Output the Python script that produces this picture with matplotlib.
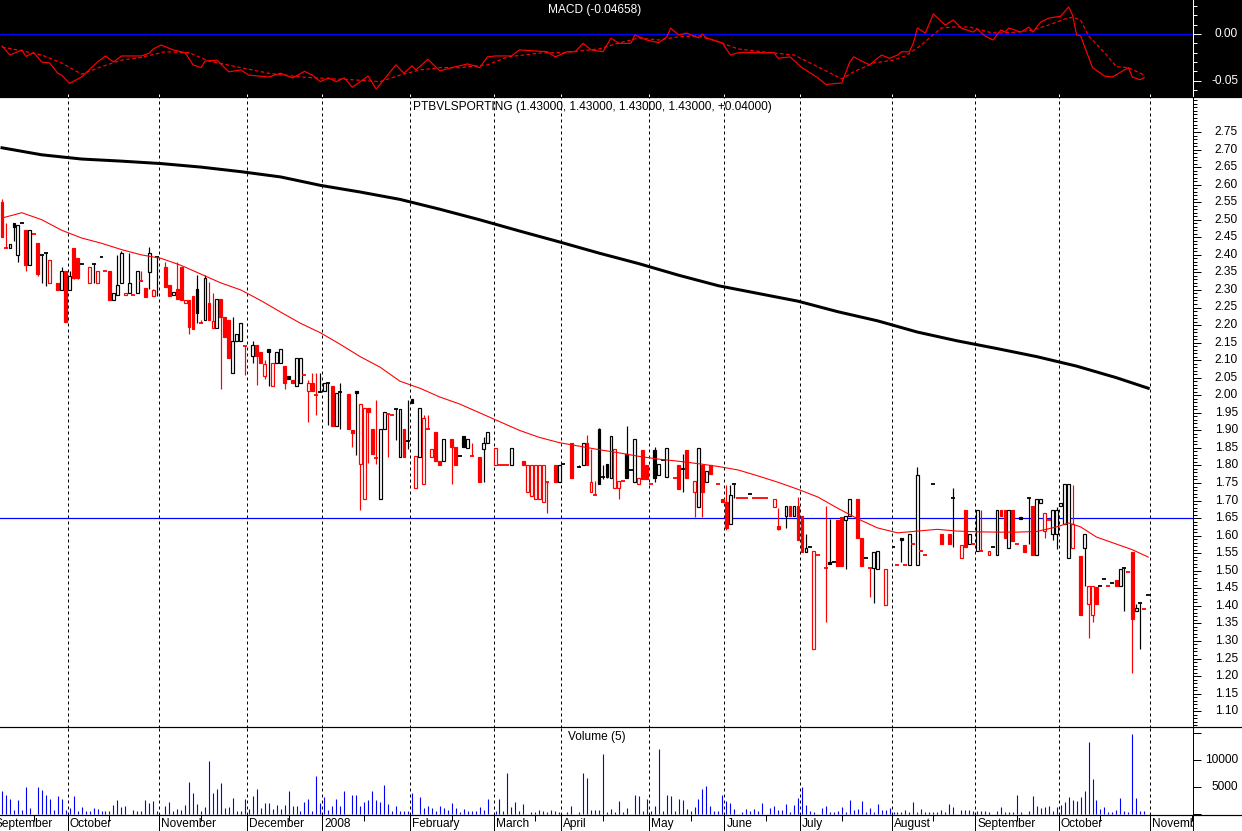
import numpy as np
import matplotlib
matplotlib.use("Agg")
import matplotlib.pyplot as plt
from matplotlib.patches import Rectangle
from matplotlib import transforms

plt.rcParams['font.family'] = ['Liberation Sans', 'DejaVu Sans']

# ---------------- data ----------------
month_names = ['September', 'October', 'November', 'December', '2008', 'February', 'March',
               'April', 'May', 'June', 'July', 'August', 'September', 'October', 'November']
month_first = [-2, 17, 40, 62, 81, 103, 124, 141, 163, 182, 201, 224, 245, 266, 289]

candle_day = [0, 1, 2, 3, 4, 5, 6, 7, 8, 9, 10, 11, 12, 14, 15, 16, 17, 18, 19, 20, 22, 23, 24, 25, 26, 27, 28, 29, 30,
              31, 32, 33, 34, 35, 36, 37, 38, 39,
              41, 42, 43, 44, 45, 46, 47, 48, 49, 50, 51, 52, 53, 54, 55, 56, 57, 58, 59, 60, 61,
              63, 64, 65, 66, 67, 68, 69, 70, 71, 72, 73, 74, 75, 76, 77, 78, 79,
              80, 81, 82, 83, 84, 85, 87, 88, 89, 90, 91, 92, 93, 94, 95, 96, 97, 98, 99, 100, 101, 102,
              103, 104, 105, 106, 107, 108, 109, 110, 111, 113, 114, 115, 116, 117, 118, 120, 121, 122,
              124, 125, 126, 127, 128, 131, 132, 133, 134, 135, 136, 137, 139, 140,
              141, 143, 145, 146, 147, 148, 149, 150, 151, 152, 153, 154, 155, 156, 157, 158, 159, 160, 161, 162,
              163, 164, 165, 166, 167, 169, 170, 171, 172, 174, 175, 176, 177, 178, 180, 181,
              182, 183, 184, 185, 186, 187, 188, 189, 190, 191, 192, 194, 195, 197, 198, 199, 200,
              201, 202, 203, 204, 205, 207, 208, 209, 210, 211, 212, 213, 215, 216, 217, 218, 219, 220, 222,
              224, 225, 226, 227, 228, 229, 230, 231, 232, 234, 236, 238, 239, 241, 242, 243, 244,
              245, 246, 248, 249, 250, 251, 252, 253, 254, 255, 256, 257, 258, 259, 260, 261, 262, 263, 264, 265,
              266, 267, 268, 269, 271, 272, 273, 274, 275, 276, 277, 278, 279, 280, 281, 282, 283, 284, 285, 286,
              287, 288]
candle_open = [2.55, 2.42, 2.42, 2.49, 2.40, 2.49, 2.47, 2.37, 2.46, 2.435, 2.40, 2.405, 2.32, 2.32, 2.30, 2.355, 2.30,
               2.42, 2.39, 2.375, 2.32, 2.375, 2.32, 2.395, 2.355, 2.355, 2.27, 2.285, 2.32,
               2.285, 2.29, 2.285, 2.29, 2.325, 2.305, 2.352, 2.283, 2.393,
               2.364, 2.314, 2.285, 2.303, 2.364, 2.262, 2.27, 2.283, 2.303, 2.205, 2.215, 2.262, 2.193, 2.193,
               2.273, 2.224, 2.213, 2.063, 2.154, 2.154, 2.14,
               2.113, 2.143, 2.124, 2.055, 2.133, 2.025, 2.093, 2.093, 2.083, 2.055, 2.043, 2.025, 2.034, 2.058,
               2.013, 2.034, 2.00,
               2.008, 2.013, 2.036, 2.025, 1.913, 2.01, 2.004, 1.901, 2.013, 1.803, 1.703, 1.963, 1.903, 1.82,
               1.703, 1.903, 1.946, 1.945, 1.96, 1.825, 1.903, 1.87,
               1.99, 1.735, 1.825, 1.746, 1.903, 1.825, 1.896, 1.814, 1.814, 1.874, 1.853, 1.827, 1.884, 1.851,
               1.827, 1.823, 1.846, 1.863,
               1.802, 1.80, 1.80, 1.80, 1.802, 1.813, 1.724, 1.714, 1.705, 1.705, 1.696, 1.754, 1.802, 1.754,
               1.803, 1.863, 1.80, 1.802, 1.863, 1.724, 1.715, 1.903, 1.766, 1.803, 1.763, 1.735, 1.735, 1.756,
               1.833, 1.787, 1.754, 1.746, 1.844, 1.801,
               1.746, 1.844, 1.772, 1.815, 1.768, 1.765, 1.801, 1.79, 1.844, 1.723, 1.683, 1.802, 1.754, 1.802,
               1.746, 1.704,
               1.697, 1.634, 1.747, 1.706, 1.706, 1.706, 1.722, 1.706, 1.706, 1.706, 1.706, 1.683, 1.627, 1.656,
               1.684, 1.656, 1.684,
               1.655, 1.554, 1.567, 1.276, 1.545, 1.508, 1.525, 1.524, 1.645, 1.654, 1.645, 1.655, 1.703, 1.593,
               1.535, 1.508, 1.507, 1.506, 1.403,
               1.567, 1.515, 1.593, 1.515, 1.515, 1.575, 1.515, 1.556, 1.545, 1.747, 1.604, 1.604, 1.706, 1.535,
               1.673, 1.575, 1.575,
               1.556, 1.556, 1.545, 1.567, 1.545, 1.673, 1.673, 1.564, 1.673, 1.575, 1.654, 1.572, 1.706, 1.684,
               1.545, 1.693, 1.614, 1.646, 1.604, 1.604,
               1.684, 1.633, 1.535, 1.564, 1.542, 1.564, 1.404, 1.375, 1.454, 1.457, 1.477, 1.457, 1.464, 1.474,
               1.457, 1.508, 1.496, 1.553, 1.385, 1.407,
               1.39, 1.43]
candle_high = [2.56, 2.49, 2.43, 2.49, 2.485, 2.49, 2.47, 2.47, 2.46, 2.435, 2.40, 2.405, 2.385, 2.32, 2.365, 2.355,
               2.355, 2.42, 2.39, 2.375, 2.366, 2.375, 2.355, 2.395, 2.355, 2.355, 2.29, 2.40, 2.41,
               2.29, 2.405, 2.285, 2.355, 2.355, 2.305, 2.423, 2.304, 2.393,
               2.381, 2.314, 2.293, 2.381, 2.364, 2.271, 2.27, 2.283, 2.343, 2.215, 2.343, 2.324, 2.29, 2.273,
               2.273, 2.224, 2.213, 2.224, 2.175, 2.205, 2.14,
               2.155, 2.143, 2.124, 2.10, 2.133, 2.093, 2.124, 2.133, 2.083, 2.055, 2.043, 2.105, 2.106, 2.058,
               2.043, 2.062, 2.062,
               2.062, 2.034, 2.036, 2.025, 2.006, 2.034, 2.004, 1.901, 2.013, 1.975, 1.963, 1.963, 1.903, 1.986,
               1.903, 1.951, 1.946, 1.945, 1.96, 1.962, 1.903, 1.986,
               1.99, 1.827, 1.963, 1.943, 1.944, 1.846, 1.896, 1.814, 1.874, 1.874, 1.853, 1.827, 1.884, 1.874,
               1.863, 1.823, 1.882, 1.894,
               1.851, 1.80, 1.80, 1.80, 1.851, 1.813, 1.80, 1.80, 1.80, 1.80, 1.80, 1.754, 1.802, 1.802,
               1.803, 1.863, 1.80, 1.863, 1.887, 1.846, 1.756, 1.908, 1.80, 1.803, 1.884, 1.846, 1.756, 1.756,
               1.912, 1.787, 1.874, 1.763, 1.844, 1.801,
               1.746, 1.853, 1.803, 1.815, 1.851, 1.765, 1.801, 1.834, 1.844, 1.756, 1.851, 1.802, 1.784, 1.802,
               1.746, 1.704,
               1.744, 1.744, 1.747, 1.706, 1.706, 1.706, 1.722, 1.706, 1.706, 1.706, 1.706, 1.704, 1.68, 1.684,
               1.684, 1.684, 1.71,
               1.655, 1.605, 1.567, 1.556, 1.545, 1.684, 1.648, 1.524, 1.645, 1.654, 1.655, 1.703, 1.703, 1.593,
               1.535, 1.508, 1.554, 1.555, 1.504,
               1.567, 1.515, 1.593, 1.515, 1.604, 1.575, 1.797, 1.556, 1.545, 1.747, 1.604, 1.604, 1.735, 1.572,
               1.673, 1.604, 1.575,
               1.673, 1.673, 1.556, 1.567, 1.673, 1.673, 1.673, 1.673, 1.673, 1.575, 1.654, 1.572, 1.706, 1.684,
               1.703, 1.705, 1.664, 1.646, 1.673, 1.683,
               1.694, 1.746, 1.747, 1.744, 1.542, 1.604, 1.457, 1.457, 1.454, 1.457, 1.477, 1.457, 1.464, 1.474,
               1.504, 1.508, 1.496, 1.553, 1.405, 1.407,
               1.39, 1.43]
candle_low = [2.45, 2.42, 2.42, 2.44, 2.38, 2.49, 2.355, 2.37, 2.46, 2.34, 2.32, 2.31, 2.32, 2.30, 2.30, 2.21, 2.30,
              2.33, 2.33, 2.375, 2.32, 2.32, 2.32, 2.395, 2.355, 2.27, 2.27, 2.285, 2.32,
              2.285, 2.29, 2.285, 2.29, 2.325, 2.28, 2.303, 2.283, 2.283,
              2.307, 2.283, 2.285, 2.273, 2.272, 2.262, 2.175, 2.19, 2.205, 2.205, 2.215, 2.215, 2.193, 2.193,
              2.017, 2.167, 2.105, 2.063, 2.154, 2.154, 2.058,
              2.093, 2.03, 2.093, 2.045, 2.025, 2.025, 2.093, 2.093, 2.017, 2.045, 2.034, 2.025, 2.034, 2.058,
              1.925, 2.013, 1.944,
              2.008, 2.013, 1.915, 1.913, 1.913, 1.905, 1.903, 1.853, 1.83, 1.673, 1.703, 1.806, 1.833, 1.803,
              1.703, 1.903, 1.825, 1.945, 1.872, 1.825, 1.825, 1.846,
              1.977, 1.735, 1.825, 1.746, 1.903, 1.825, 1.814, 1.802, 1.814, 1.746, 1.802, 1.827, 1.853, 1.851,
              1.827, 1.754, 1.754, 1.863,
              1.802, 1.80, 1.80, 1.80, 1.802, 1.802, 1.724, 1.714, 1.705, 1.705, 1.696, 1.664, 1.754, 1.754,
              1.803, 1.765, 1.796, 1.802, 1.802, 1.724, 1.715, 1.746, 1.76, 1.765, 1.763, 1.735, 1.705, 1.756,
              1.765, 1.787, 1.754, 1.746, 1.762, 1.762,
              1.746, 1.754, 1.772, 1.815, 1.768, 1.765, 1.733, 1.724, 1.765, 1.654, 1.683, 1.654, 1.754, 1.775,
              1.746, 1.697,
              1.616, 1.634, 1.706, 1.706, 1.706, 1.706, 1.718, 1.706, 1.706, 1.706, 1.706, 1.683, 1.617, 1.623,
              1.656, 1.656, 1.588,
              1.554, 1.554, 1.567, 1.276, 1.545, 1.355, 1.52, 1.524, 1.514, 1.514, 1.506, 1.655, 1.593, 1.514,
              1.535, 1.426, 1.407, 1.506, 1.403,
              1.567, 1.515, 1.525, 1.515, 1.515, 1.575, 1.515, 1.556, 1.545, 1.747, 1.575, 1.575, 1.567, 1.535,
              1.567, 1.575, 1.575,
              1.556, 1.556, 1.545, 1.567, 1.545, 1.655, 1.593, 1.564, 1.586, 1.575, 1.648, 1.554, 1.575, 1.545,
              1.545, 1.693, 1.594, 1.646, 1.587, 1.561,
              1.684, 1.633, 1.535, 1.564, 1.375, 1.457, 1.307, 1.355, 1.406, 1.457, 1.477, 1.457, 1.464, 1.457,
              1.457, 1.386, 1.496, 1.208, 1.385, 1.276,
              1.39, 1.43]
candle_close = [2.45, 2.42, 2.43, 2.48, 2.485, 2.49, 2.37, 2.47, 2.46, 2.345, 2.40, 2.405, 2.385, 2.30, 2.355, 2.21,
                2.34, 2.335, 2.335, 2.375, 2.365, 2.375, 2.355, 2.395, 2.355, 2.27, 2.29, 2.315, 2.405,
                2.29, 2.32, 2.285, 2.355, 2.325, 2.28, 2.404, 2.30, 2.393,
                2.307, 2.283, 2.293, 2.273, 2.272, 2.27, 2.195, 2.19, 2.235, 2.205, 2.333, 2.215, 2.212, 2.273,
                2.224, 2.167, 2.105, 2.154, 2.175, 2.205, 2.14,
                2.143, 2.113, 2.093, 2.09, 2.124, 2.093, 2.124, 2.133, 2.034, 2.045, 2.034, 2.105, 2.106, 2.058,
                2.034, 2.013, 2.00,
                2.008, 2.034, 2.036, 1.913, 2.006, 2.01, 1.903, 1.893, 2.006, 1.975, 1.963, 1.953, 1.833, 1.82,
                1.903, 1.951, 1.946, 1.945, 1.96, 1.962, 1.825, 1.87,
                1.977, 1.827, 1.963, 1.934, 1.903, 1.846, 1.814, 1.802, 1.874, 1.853, 1.802, 1.827, 1.853, 1.874,
                1.827, 1.754, 1.863, 1.894,
                1.851, 1.80, 1.80, 1.80, 1.851, 1.802, 1.80, 1.80, 1.80, 1.80, 1.80, 1.754, 1.754, 1.802,
                1.803, 1.765, 1.797, 1.863, 1.802, 1.754, 1.715, 1.746, 1.766, 1.767, 1.884, 1.846, 1.756, 1.756,
                1.765, 1.787, 1.874, 1.763, 1.762, 1.762,
                1.746, 1.765, 1.803, 1.815, 1.851, 1.765, 1.733, 1.79, 1.765, 1.756, 1.851, 1.724, 1.784, 1.775,
                1.746, 1.697,
                1.623, 1.716, 1.747, 1.706, 1.706, 1.706, 1.719, 1.706, 1.706, 1.706, 1.706, 1.704, 1.62, 1.684,
                1.656, 1.684, 1.588,
                1.554, 1.564, 1.567, 1.556, 1.545, 1.508, 1.52, 1.524, 1.514, 1.514, 1.655, 1.703, 1.593, 1.514,
                1.535, 1.508, 1.554, 1.555, 1.504,
                1.567, 1.515, 1.588, 1.515, 1.604, 1.575, 1.772, 1.556, 1.545, 1.747, 1.575, 1.575, 1.706, 1.572,
                1.567, 1.604, 1.575,
                1.673, 1.556, 1.556, 1.567, 1.673, 1.655, 1.593, 1.673, 1.586, 1.575, 1.648, 1.554, 1.706, 1.545,
                1.703, 1.705, 1.664, 1.646, 1.673, 1.674,
                1.694, 1.746, 1.747, 1.634, 1.375, 1.604, 1.457, 1.457, 1.406, 1.457, 1.477, 1.457, 1.464, 1.457,
                1.504, 1.508, 1.496, 1.363, 1.393, 1.407,
                1.39, 1.43]

ma_long_day = [0, 10, 20, 30, 40, 50, 60, 70, 80, 90, 100, 110, 120, 130, 140, 150, 160, 170, 180, 190, 200,
               210, 220, 230, 240, 250, 260, 270, 280, 288]
ma_long_val = [2.705, 2.685, 2.673, 2.667, 2.660, 2.650, 2.637, 2.622, 2.598, 2.579, 2.558, 2.530, 2.500, 2.468,
               2.437, 2.405, 2.375, 2.342, 2.312, 2.290, 2.268, 2.238, 2.212, 2.180, 2.155, 2.133, 2.110, 2.083,
               2.050, 2.020]

ma_short_day = [0, 5, 10, 15, 20, 25, 30, 35, 40, 45, 50, 55, 60, 65, 70, 75, 80, 85, 90, 95, 100, 105, 110, 115,
                120, 125, 130, 135, 140, 145, 150, 155, 160, 165, 170, 175, 180, 185, 190, 195, 200, 205, 210, 215,
                220, 225, 230, 235, 240, 245, 250, 255, 260, 265, 268, 271, 275, 280, 284, 288]
ma_short_val = [2.505, 2.52, 2.50, 2.47, 2.448, 2.433, 2.415, 2.40, 2.39, 2.37, 2.345, 2.32, 2.30, 2.27, 2.237,
                2.205, 2.178, 2.145, 2.11, 2.08, 2.04, 2.02, 1.995, 1.975, 1.95, 1.925, 1.90, 1.88, 1.865, 1.855,
                1.845, 1.836, 1.826, 1.818, 1.812, 1.805, 1.797, 1.787, 1.77, 1.752, 1.732, 1.71, 1.678, 1.648,
                1.622, 1.608, 1.613, 1.618, 1.613, 1.611, 1.61, 1.61, 1.612, 1.625, 1.636, 1.625, 1.596, 1.576,
                1.56, 1.539]
hline_level = 1.65

macd_day = [0, 2, 5, 6, 8, 10, 12, 14, 15, 17, 20, 24, 26, 28, 30, 35, 37, 38, 40, 43, 46, 48, 50, 51, 54, 57,
            60, 62, 67, 70, 73, 76, 78, 80, 82, 84, 86, 88, 92, 94, 99, 101, 103, 104, 107, 110, 113, 117, 120,
            122, 124, 128, 130, 137, 139, 142, 144, 146, 148, 151, 153, 155, 158, 159, 162, 165, 167, 168, 170,
            172, 175, 176, 177, 181, 183, 185, 194, 195, 198, 201, 205, 207, 211, 213, 214, 216, 218, 221, 223,
            225, 226, 228, 229, 230, 232, 234, 237, 239, 241, 244, 245, 247, 249, 251, 252, 253, 256, 258, 259,
            261, 263, 266, 268, 269, 270, 271, 274, 277, 279, 283, 284, 286, 287]
macd_val = [-0.013, -0.0225, -0.017, -0.024, -0.020, -0.030, -0.031, -0.042, -0.044, -0.053, -0.046, -0.030,
            -0.0235, -0.030, -0.0235, -0.0235, -0.0205, -0.016, -0.0118, -0.017, -0.020, -0.033, -0.036, -0.029,
            -0.028, -0.0405, -0.0385, -0.044, -0.046, -0.042, -0.047, -0.040, -0.044, -0.051, -0.047, -0.051,
            -0.047, -0.057, -0.045, -0.059, -0.033, -0.042, -0.034, -0.0385, -0.027, -0.0395, -0.036, -0.032,
            -0.036, -0.0245, -0.0235, -0.0235, -0.017, -0.019, -0.0245, -0.019, -0.019, -0.010, -0.017, -0.019,
            -0.0045, -0.010, -0.010, -0.001, -0.0064, -0.0093, -0.0032, 0.0064, -0.001, 0.001, -0.004, 0.0,
            -0.004, -0.0096, -0.0225, -0.020, -0.020, -0.026, -0.0245, -0.036, -0.047, -0.054, -0.0525, -0.030,
            -0.0245, -0.029, -0.033, -0.0225, -0.026, -0.0225, -0.019, -0.019, -0.0096, 0.0064, 0.001, 0.0214,
            0.0096, 0.015, 0.0064, 0.002, 0.0054, -0.0021, -0.0064, 0.0043, 0.002, 0.0064, 0.002, 0.0075, 0.002,
            0.0128, 0.017, 0.019, 0.029, 0.020, -0.001, -0.002, -0.036, -0.045, -0.046, -0.036, -0.046, -0.049,
            -0.04658]
signal_day = [0, 5, 10, 15, 20, 25, 30, 35, 41, 47, 52, 60, 67, 75, 83, 88, 95, 100, 105, 110, 115, 122, 127,
              136, 141, 150, 155, 160, 165, 170, 175, 180, 185, 193, 199, 204, 211, 214, 219, 224, 227, 231, 233,
              236, 239, 243, 248, 250, 255, 259, 263, 267, 269, 271, 273, 277, 280, 283, 286, 287]
signal_val = [-0.014, -0.018, -0.0225, -0.031, -0.043, -0.035, -0.028, -0.025, -0.019, -0.020, -0.029, -0.036,
              -0.042, -0.046, -0.048, -0.049, -0.051, -0.044, -0.0385, -0.036, -0.036, -0.033, -0.0245, -0.020,
              -0.020, -0.016, -0.0096, -0.0043, -0.0064, -0.003, -0.002, -0.0085, -0.016, -0.020, -0.0225, -0.033,
              -0.048, -0.0405, -0.031, -0.028, -0.0235, -0.0118, -0.0043, 0.0064, 0.0075, 0.0075, 0.002, 0.001,
              0.002, 0.0043, 0.0096, 0.016, 0.018, 0.015, -0.002, -0.020, -0.035, -0.036, -0.042, -0.044]

vol_day = [0, 1, 2, 3, 4, 5, 6, 7, 9, 10, 11, 12, 13, 14, 15, 16, 17, 18, 19, 20, 21, 22, 23, 24, 25, 26, 27, 28,
           29, 30, 31, 33, 34, 35, 36, 37, 38, 39, 41, 42, 43, 44, 45, 46, 47, 48, 49, 50, 51, 52, 53, 54, 55, 56,
           57, 58, 59, 60, 61, 62, 63, 64, 65, 66, 67, 68, 69, 70, 71, 72, 73, 74, 75, 76, 77, 78, 79, 80, 81, 82,
           83, 84, 85, 86, 88, 89, 90, 91, 92, 93, 94, 95, 96, 97, 98, 99, 100, 101, 102, 103, 105, 106, 107, 108,
           109, 110, 111, 112, 113, 114, 115, 116, 117, 118, 119, 120, 121, 122, 124, 125, 126, 127, 128, 129,
           130, 131, 133, 134, 135, 136, 137, 138, 139, 140, 142, 143, 145, 146, 147, 148, 149, 150, 151, 152,
           153, 154, 155, 156, 157, 159, 160, 161, 162, 163, 164, 165, 166, 167, 168, 169, 170, 171, 172, 173,
           174, 175, 176, 177, 178, 179, 180, 181, 182, 183, 184, 186, 187, 188, 189, 190, 191, 193, 194, 195,
           196, 197, 198, 199, 200, 201, 202, 203, 204, 206, 207, 208, 209, 210, 211, 212, 213, 214, 215, 216,
           217, 218, 219, 220, 221, 222, 223, 224, 225, 226, 227, 228, 229, 230, 231, 232, 233, 234, 235, 236,
           237, 238, 239, 241, 242, 243, 244, 245, 246, 247, 248, 250, 251, 252, 253, 254, 255, 256, 258, 259,
           260, 261, 262, 263, 264, 265, 266, 267, 268, 269, 270, 271, 272, 273, 274, 275, 276, 277, 278, 279,
           280, 281, 282, 283, 284, 285, 286, 287]
vol_value = [4250, 3500, 2800, 740, 2600, 740, 5000, 1100, 5000, 4400, 3500, 2800, 740, 3300, 2800, 740, 1100,
             3300, 555, 1300, 550, 555, 1100, 925, 550, 550, 550, 1700, 2600, 1300, 1500, 740, 550, 550, 2600,
             2000, 2400, 550, 1500, 2200, 550, 925, 740, 1700, 5900, 3900, 1800, 555, 1300, 9800, 3900, 4600,
             5700, 1110, 1300, 3000, 555, 555, 2800, 925, 3300, 4600, 1110, 2000, 2000, 900, 1700, 900, 1700,
             4300, 1500, 1500, 555, 2200, 2800, 550, 7000, 2000, 3100, 740, 1500, 2800, 1500, 4300, 3500, 3500,
             1480, 2200, 2600, 4200, 2600, 2200, 5400, 1800, 555, 1500, 555, 550, 555, 3900, 3100, 1200, 1500,
             1110, 555, 1500, 1110, 740, 2000, 1110, 370, 925, 555, 555, 555, 1300, 740, 2800, 550, 2800, 555,
             7600, 1300, 2200, 555, 1800, 370, 370, 740, 555, 370, 740, 550, 370, 370, 1500, 370, 7600, 6700,
             740, 740, 740, 11100, 370, 925, 370, 2400, 370, 1110, 3600, 3300, 550, 2800, 550, 1480, 12000, 550,
             3600, 3300, 550, 2800, 2600, 925, 555, 1295, 2800, 4600, 5200, 1480, 550, 555, 3600, 2400, 2000,
             925, 370, 925, 555, 925, 555, 2000, 1110, 1480, 740, 740, 1800, 370, 1700, 3000, 5000, 1700, 555,
             370, 1110, 1480, 370, 370, 555, 1295, 370, 2600, 740, 925, 2400, 370, 1110, 370, 1800, 740, 740,
             1110, 370, 370, 370, 740, 370, 2200, 370, 925, 370, 370, 370, 370, 740, 370, 1800, 1295, 740, 740,
             740, 555, 555, 555, 555, 370, 555, 1295, 370, 370, 370, 3500, 370, 555, 3300, 1480, 1110, 1295, 1480,
             555, 1295, 1700, 2200, 3100, 2600, 2400, 3100, 4200, 13300, 6500, 2600, 925, 1295, 370, 370, 740,
             3000, 555, 370, 14800, 3000, 555, 555]

# ---------------- layout ----------------
W, H = 1242, 831
AXR = 1193          # right edge of plotting area (px)
fig = plt.figure(figsize=(W / 100, H / 100), dpi=100)
fig.patch.set_facecolor('white')

def fy(py):
    return 1 - py / H

PX = 0.72  # one pixel in points
bg = Rectangle((0, fy(97)), 1, 97 / H, transform=fig.transFigure,
               facecolor='black', edgecolor='none', zorder=-10)
fig.patches.append(bg)

ax_m = fig.add_axes([0, fy(97), AXR / W, 97 / H])
ax_p = fig.add_axes([0, fy(727), AXR / W, 630 / H])
ax_v = fig.add_axes([0, fy(815), AXR / W, 88 / H])
ax_x = fig.add_axes([0, 0, AXR / W, 16 / H])

XL = (-0.503, 299.25)
for a in (ax_m, ax_p, ax_v, ax_x):
    a.set_xlim(*XL)
    a.set_xticks([])
    for s in ('left', 'top', 'bottom'):
        a.spines[s].set_visible(False)
    a.spines['right'].set_linewidth(PX)
    a.yaxis.tick_right()
    a.tick_params(axis='y', which='both', direction='out', labelright=False, labelleft=False,
                  width=PX)
    a.tick_params(axis='y', which='major', length=8 * PX)
    a.tick_params(axis='y', which='minor', length=4 * PX)

ax_m.set_facecolor('black')
ax_p.set_facecolor('white')
ax_v.set_facecolor('white')
ax_x.set_facecolor('white')

grid_x = [d - 0.5 for d in month_first]
dash = (0, (3, 3))

# ---------------- MACD panel ----------------
ax_m.set_ylim(-63 / 934, 34 / 934)
ax_m.spines['right'].set_color('white')
ax_m.tick_params(axis='y', which='both', colors='white')
ax_m.set_yticks([0.0, -0.05])
ax_m.set_yticks([0.03, 0.02, 0.01, -0.01, -0.02, -0.03, -0.04, -0.06], minor=True)
ax_m.axhline(0, color='#0000ff', lw=1.4 * PX, zorder=2)
ax_m.plot(signal_day, signal_val, color='#ff0000', lw=PX * 1.2, ls=(0, (3, 2)), zorder=3)
ax_m.plot(macd_day, macd_val, color='#ff0000', lw=PX * 1.2, zorder=4)
ax_m.vlines(grid_x, -63 / 934, -63 / 934 + 3 / 934, color='white', lw=PX)

# ---------------- price panel ----------------
ax_p.set_ylim(2.75 - 595 / 351, 2.75 + 35 / 351)
ax_p.set_yticks(np.round(np.arange(1.10, 2.7501, 0.05), 2))
ax_p.set_yticks(np.round(np.arange(1.06, 2.8401, 0.01), 2), minor=True)
ax_p.vlines(grid_x, 1.0, 2.9, color='black', lw=PX, linestyles=dash, zorder=1)
ax_p.axhline(hline_level, color='#0000ff', lw=PX * 1.2, zorder=1.5)
ax_p.plot(ma_long_day, ma_long_val, color='black', lw=3 * PX, zorder=4)
ax_p.plot(ma_short_day, ma_short_val, color='#ff0000', lw=PX * 1.1, zorder=4)

prev_close = None
for d, o, h, l, c in zip(candle_day, candle_open, candle_high, candle_low, candle_close):
    col = 'black' if (prev_close is not None and c > prev_close) else '#ff0000'
    prev_close = c
    if h - l > 1e-6:
        ax_p.vlines(d, l, h, color=col, lw=PX * 1.2, zorder=2)
    if abs(c - o) < 0.004:
        ax_p.hlines(c, d - 0.5, d + 0.5, color=col, lw=PX * 1.8, zorder=3)
    else:
        filled = c < o
        ax_p.add_patch(Rectangle((d - 0.36, min(o, c)), 0.72, abs(c - o),
                                 facecolor=col if filled else 'white', edgecolor=col,
                                 lw=PX * 1.2, zorder=3))

# ---------------- volume panel ----------------
ax_v.set_ylim(-185, 16095)
ax_v.set_yticks([0, 5000, 10000, 15000])
ax_v.vlines(grid_x, -200, 17000, color='black', lw=PX, linestyles=dash, zorder=1)
ax_v.vlines(vol_day, 0, vol_value, color='#0000ff', lw=PX * 1.1, zorder=2)

# ---------------- date strip ----------------
ax_x.set_ylim(0, 1)
ax_x.set_yticks([])
ax_x.vlines(grid_x, 0, 1, color='black', lw=PX)
mid_ticks = [d + 10 for d in month_first]
ax_x.vlines(mid_ticks, 0.62, 1, color='black', lw=PX)
for d, name in zip(month_first, month_names):
    ax_x.text(d, 0.45, name, ha='left', va='center', fontsize=8.6, color='black', clip_on=True)

# ---------------- right-side labels ----------------
def right_labels(ax, vals, texts, color):
    tr = transforms.blended_transform_factory(fig.transFigure, ax.transData)
    for v, t in zip(vals, texts):
        ax.text(1238 / W, v, t, transform=tr, ha='right', va='center', fontsize=8.6, color=color,
                clip_on=False)

pvals = np.round(np.arange(1.10, 2.7501, 0.05), 2)
right_labels(ax_p, pvals, ['%.2f' % v for v in pvals], 'black')
right_labels(ax_m, [0.0, -0.05], ['0.00', '-0.05'], 'white')
right_labels(ax_v, [5000, 10000], ['5000', '10000'], 'black')

# separator lines spanning the full width
for py in (97, 727, 815):
    fig.add_artist(plt.Line2D([0, 1], [fy(py), fy(py)], transform=fig.transFigure,
                              color='black', lw=PX * 1.2))

# ---------------- titles ----------------
fig.text(595 / W, fy(10), 'MACD (-0.04658)', ha='center', va='center', fontsize=8.6, color='white')
fig.text(592 / W, fy(107), 'PTBVLSPORTING (1.43000, 1.43000, 1.43000, 1.43000, +0.04000)',
         ha='center', va='center', fontsize=8.6, color='black')
fig.text(597 / W, fy(737), 'Volume (5)', ha='center', va='center', fontsize=8.6, color='black')

fig.savefig('out.png', dpi=100, facecolor=fig.get_facecolor())
